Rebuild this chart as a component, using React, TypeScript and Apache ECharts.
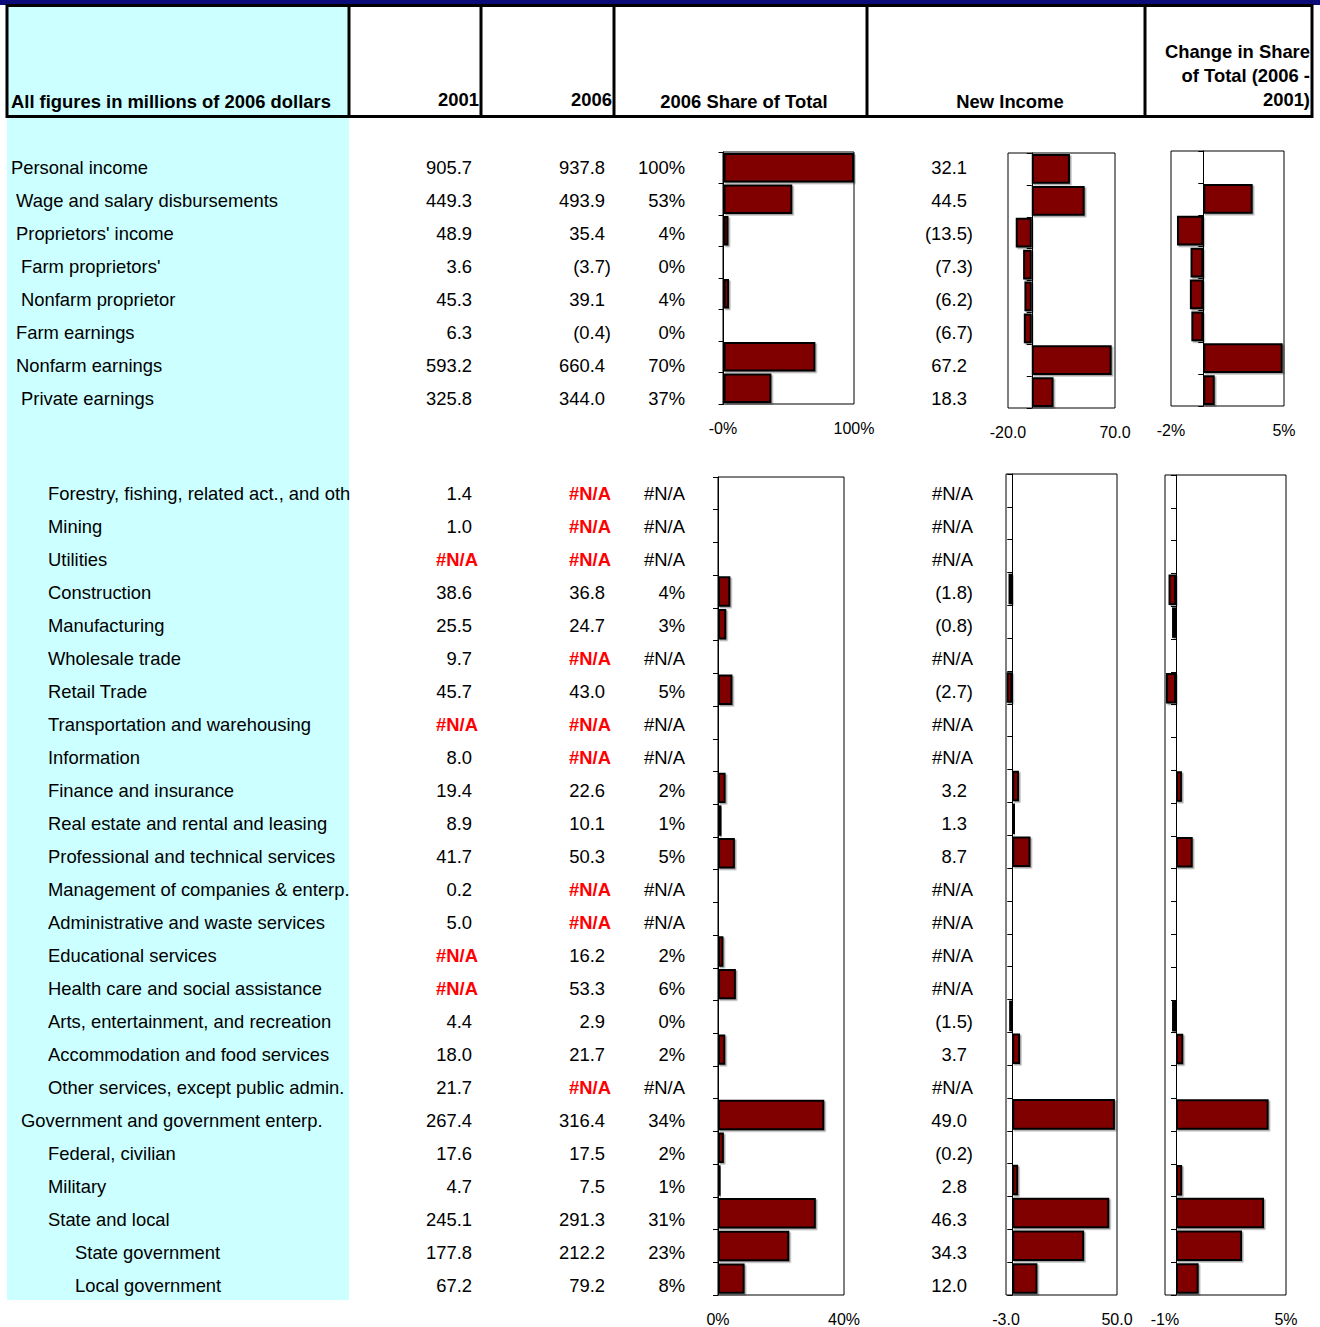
import React, { useEffect, useRef } from 'react';
import * as echarts from 'echarts';

// ---------- DATA ----------
const topNames = [
  'Personal income',
  'Wage and salary disbursements',
  "Proprietors' income",
  "Farm proprietors'",
  'Nonfarm proprietor',
  'Farm earnings',
  'Nonfarm earnings',
  'Private earnings',
];
const topIndent = [0, 1, 1, 2, 2, 1, 1, 2];
const top2001: (number | null)[] = [905.7, 449.3, 48.9, 3.6, 45.3, 6.3, 593.2, 325.8];
const top2006: (number | null)[] = [937.8, 493.9, 35.4, -3.7, 39.1, -0.4, 660.4, 344.0];
const topShare: (number | null)[] = [1.0, 0.527, 0.038, -0.004, 0.042, -0.0004, 0.704, 0.367];
const topNew: (number | null)[] = [32.1, 44.5, -13.5, -7.3, -6.2, -6.7, 67.2, 18.3];
const topChange: (number | null)[] = [0, 0.0306, -0.0163, -0.0079, -0.0083, -0.0074, 0.0492, 0.0071];

const botNames = [
  'Forestry, fishing, related act., and other',
  'Mining',
  'Utilities',
  'Construction',
  'Manufacturing',
  'Wholesale trade',
  'Retail Trade',
  'Transportation and warehousing',
  'Information',
  'Finance and insurance',
  'Real estate and rental and leasing',
  'Professional and technical services',
  'Management of companies & enterp.',
  'Administrative and waste services',
  'Educational services',
  'Health care and social assistance',
  'Arts, entertainment, and recreation',
  'Accommodation and food services',
  'Other services, except public admin.',
  'Government and government enterp.',
  'Federal, civilian',
  'Military',
  'State and local',
  'State government',
  'Local government',
];
const botIndent = [3, 3, 3, 3, 3, 3, 3, 3, 3, 3, 3, 3, 3, 3, 3, 3, 3, 3, 3, 2, 3, 3, 3, 4, 4];
const bot2001: (number | null)[] = [1.4, 1.0, null, 38.6, 25.5, 9.7, 45.7, null, 8.0, 19.4, 8.9, 41.7, 0.2, 5.0, null, null, 4.4, 18.0, 21.7, 267.4, 17.6, 4.7, 245.1, 177.8, 67.2];
const bot2006: (number | null)[] = [null, null, null, 36.8, 24.7, null, 43.0, null, null, 22.6, 10.1, 50.3, null, null, 16.2, 53.3, 2.9, 21.7, null, 316.4, 17.5, 7.5, 291.3, 212.2, 79.2];
const botShare: (number | null)[] = [null, null, null, 0.0392, 0.0263, null, 0.0459, null, null, 0.0241, 0.0108, 0.0536, null, null, 0.0173, 0.0568, 0.0031, 0.0231, null, 0.3374, 0.0187, 0.008, 0.3106, 0.2263, 0.0845];
const botNew: (number | null)[] = [null, null, null, -1.8, -0.8, null, -2.7, null, null, 3.2, 1.3, 8.7, null, null, null, null, -1.5, 3.7, null, 49.0, -0.2, 2.8, 46.3, 34.3, 12.0];
const botChange: (number | null)[] = [null, null, null, -0.0034, -0.0018, null, -0.0046, null, null, 0.0027, 0.0009, 0.0076, null, null, null, null, -0.0018, 0.0033, null, 0.0421, -0.0008, 0.0028, 0.04, 0.03, 0.0103];

// axis ranges and tick labels
const shareTopRange = [-0.004, 1];
const shareTopTicks = ['-0%', '100%'];
const newTopRange = [-20, 70];
const newTopTicks = ['-20.0', '70.0'];
const chgTopRange = [-0.02, 0.05];
const chgTopTicks = ['-2%', '5%'];
const shareBotRange = [0, 0.4];
const shareBotTicks = ['0%', '40%'];
const newBotRange = [-3, 50];
const newBotTicks = ['-3.0', '50.0'];
const chgBotRange = [-0.005, 0.05];
const chgBotTicks = ['-1%', '5%'];

const headerCols = ['All figures in millions of 2006 dollars', '2001', '2006', '2006 Share of Total', 'New Income'];
const headerChange = ['Change in Share', 'of Total (2006 -', '2001)'];

// ---------- STYLE / LAYOUT ----------
const FONT = "'Liberation Sans', Arial, Helvetica, sans-serif";
const FS = 18.4;
const BAR = '#800000';
const indentX = [11, 16, 21, 48, 75];

function fmtNum(v: number | null) {
  if (v === null) return '#N/A';
  if (v < 0) return '(' + Math.abs(v).toFixed(1) + ')';
  return v.toFixed(1);
}
function fmtPct(v: number | null) {
  if (v === null) return '#N/A';
  const r = Math.round(v * 100);
  return (r === 0 ? 0 : r) + '%';
}

function buildOption() {
  const graphic: any[] = [];
  // top band
  graphic.push({ type: 'rect', z: 0, shape: { x: 0, y: 0, width: 1320, height: 5 }, style: { fill: '#0b0b7a' } });
  // cyan column
  graphic.push({ type: 'rect', z: 0, shape: { x: 7, y: 5, width: 342, height: 1295 }, style: { fill: '#CCFFFF' } });
  // header box
  graphic.push({ type: 'rect', z: 1, shape: { x: 7, y: 5.5, width: 1305, height: 111 }, style: { fill: 'none', stroke: '#000', lineWidth: 3 } });
  [349, 481, 614, 867, 1145].forEach((x) => {
    graphic.push({ type: 'line', z: 1, shape: { x1: x, y1: 5, x2: x, y2: 117 }, style: { stroke: '#000', lineWidth: 3 } });
  });
  const hstyle = { font: `bold ${FS}px ${FONT}`, fill: '#000', verticalAlign: 'middle' };
  graphic.push({ type: 'text', z: 2, x: 11, y: 101, style: { ...hstyle, text: headerCols[0], align: 'left' } });
  graphic.push({ type: 'text', z: 2, x: 479, y: 99, style: { ...hstyle, text: headerCols[1], align: 'right' } });
  graphic.push({ type: 'text', z: 2, x: 612, y: 99, style: { ...hstyle, text: headerCols[2], align: 'right' } });
  graphic.push({ type: 'text', z: 2, x: 744, y: 101, style: { ...hstyle, text: headerCols[3], align: 'center' } });
  graphic.push({ type: 'text', z: 2, x: 1010, y: 101, style: { ...hstyle, text: headerCols[4], align: 'center' } });
  headerChange.forEach((t, i) => {
    graphic.push({ type: 'text', z: 2, x: 1310, y: 51 + i * 24, style: { ...hstyle, text: t, align: 'right' } });
  });

  const addRows = (
    y0: number,
    names: string[],
    indent: number[],
    c1: (number | null)[],
    c2: (number | null)[],
    sh: (number | null)[],
    nw: (number | null)[]
  ) => {
    names.forEach((n, i) => {
      const y = y0 + i * 33;
      const x = indentX[indent[i]];
      graphic.push({
        type: 'text', z: 2, x, y,
        style: { text: n, font: `${FS}px ${FONT}`, fill: '#000', align: 'left', verticalAlign: 'middle', width: 356 - x, overflow: 'truncate', ellipsis: '' },
      });
      const numCell = (v: number | null, right: number, errStyle: boolean) => {
        const isErr = v === null;
        const neg = v !== null && v < 0;
        graphic.push({
          type: 'text', z: 2, x: isErr || neg ? right + 6 : right, y,
          style: {
            text: fmtNum(v),
            font: `${isErr && errStyle ? 'bold ' : ''}${FS}px ${FONT}`,
            fill: isErr && errStyle ? '#FF0000' : '#000',
            align: 'right', verticalAlign: 'middle',
          },
        });
      };
      numCell(c1[i], 472, true);
      numCell(c2[i], 605, true);
      graphic.push({
        type: 'text', z: 2, x: 685, y,
        style: { text: fmtPct(sh[i]), font: `${FS}px ${FONT}`, fill: '#000', align: 'right', verticalAlign: 'middle' },
      });
      numCell(nw[i], 967, false);
    });
  };
  addRows(167, topNames, topIndent, top2001, top2006, topShare, topNew);
  addRows(493, botNames, botIndent, bot2001, bot2006, botShare, botNew);

  const panels = [
    { box: [723, 152, 131, 252], range: shareTopRange, ticks: shareTopTicks, data: topShare, cats: topNames },
    { box: [1008, 153, 107, 255], range: newTopRange, ticks: newTopTicks, data: topNew, cats: topNames },
    { box: [1171, 151, 113, 255], range: chgTopRange, ticks: chgTopTicks, data: topChange, cats: topNames },
    { box: [718, 477, 126, 819], range: shareBotRange, ticks: shareBotTicks, data: botShare, cats: botNames },
    { box: [1006, 474, 111, 822], range: newBotRange, ticks: newBotTicks, data: botNew, cats: botNames },
    { box: [1165, 475, 121, 822], range: chgBotRange, ticks: chgBotTicks, data: botChange, cats: botNames },
  ];

  const grid = panels.map((p) => ({
    left: p.box[0], top: p.box[1], width: p.box[2], height: p.box[3],
    show: true, borderColor: '#000', borderWidth: 1, backgroundColor: 'transparent', containLabel: false,
  }));
  const xAxis = panels.map((p, i) => {
    const [mn, mx] = p.range;
    return {
      type: 'value', gridIndex: i, min: mn, max: mx,
      splitLine: { show: false }, axisTick: { show: false }, axisLine: { show: false },
      axisLabel: {
        show: true, margin: 16, fontFamily: FONT, fontSize: 16, color: '#000',
        customValues: [mn, mx],
        showMinLabel: true, showMaxLabel: true,
        formatter: (v: number) => (Math.abs(v - mn) < 1e-9 ? p.ticks[0] : Math.abs(v - mx) < 1e-9 ? p.ticks[1] : ''),
      },
    };
  });
  const yAxis = panels.map((p, i) => ({
    type: 'category', gridIndex: i, data: p.cats, inverse: true,
    axisLine: { show: true, onZero: true, lineStyle: { color: '#000', width: 1 } },
    axisTick: { show: true, length: 5, lineStyle: { color: '#000', width: 1 } },
    axisLabel: { show: false },
    splitLine: { show: false },
  }));
  const series = panels.map((p, i) => ({
    type: 'bar', xAxisIndex: i, yAxisIndex: i,
    data: p.data.map((v) => (v === null ? '-' : v)),
    barCategoryGap: '7%',
    itemStyle: {
      color: BAR, borderColor: '#000', borderWidth: 2,
      shadowColor: 'rgba(0,0,0,0.35)', shadowOffsetX: 1.5, shadowOffsetY: 1.5, shadowBlur: 1,
    },
    silent: true,
  }));

  return {
    animation: false,
    backgroundColor: '#fff',
    grid, xAxis, yAxis, series, graphic,
  };
}

export default function App() {
  const ref = useRef<HTMLDivElement>(null);
  useEffect(() => {
    document.body.style.margin = '0';
    const chart = echarts.init(ref.current as HTMLDivElement, null, { renderer: 'svg' });
    chart.setOption(buildOption() as any);
    return () => chart.dispose();
  }, []);
  return <div ref={ref} style={{ width: 1320, height: 1327 }} />;
}
